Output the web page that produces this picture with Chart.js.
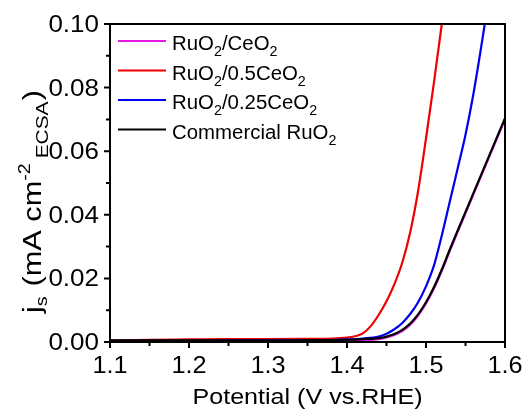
<!DOCTYPE html>
<html>
<head>
<meta charset="utf-8">
<script src="https://cdn.jsdelivr.net/npm/chart.js@4.4.0/dist/chart.umd.min.js"></script>
<style>
  html, body { margin: 0; padding: 0; background: #fff; }
  #wrap { width: 528px; height: 412px; }
</style>
</head>
<body>
<div id="wrap"><canvas id="Grafico" width="528" height="412"></canvas></div>
<script>
// values
const potRuCe = [1.10,1.20,1.30,1.35,1.40,1.42,1.44,1.45,1.46,1.47,1.48,1.49,1.50,1.51,1.52,1.53,1.54,1.55,1.56,1.57,1.58,1.59,1.60];
const jRuCe   = [0.0002,0.0002,0.0002,0.0003,0.0004,0.0006,0.0009,0.0014,0.0022,0.0034,0.0054,0.0083,0.0121,0.0168,0.0224,0.0286,0.0346,0.0405,0.0464,0.0523,0.0582,0.0641,0.0700];

const potRu05 = [1.10,1.15,1.20,1.25,1.30,1.35,1.38,1.40,1.41,1.42,1.43,1.44,1.45,1.46,1.47,1.48,1.49,1.50,1.51,1.52,1.525];
const jRu05   = [0.0004,0.0007,0.0008,0.0009,0.0009,0.0010,0.0011,0.0014,0.0018,0.0027,0.0050,0.0085,0.0128,0.0182,0.0250,0.0345,0.0475,0.0640,0.0815,0.1000,0.1100];

const potRu025 = [1.10,1.20,1.30,1.35,1.40,1.42,1.44,1.45,1.46,1.47,1.48,1.49,1.50,1.51,1.52,1.53,1.54,1.55,1.56,1.57,1.58];
const jRu025   = [0.0004,0.0004,0.0005,0.0005,0.0008,0.0011,0.0017,0.0026,0.0040,0.0060,0.0088,0.0125,0.0175,0.0240,0.0335,0.0440,0.0545,0.0652,0.0780,0.0930,0.1090];

const potComm = [1.10,1.20,1.30,1.35,1.40,1.42,1.44,1.45,1.46,1.47,1.48,1.49,1.50,1.51,1.52,1.53,1.54,1.55,1.56,1.57,1.58,1.59,1.60];
const jComm   = [0.0005,0.0005,0.0005,0.0006,0.0007,0.0009,0.0012,0.0017,0.0025,0.0038,0.0058,0.0087,0.0125,0.0172,0.0228,0.0290,0.0350,0.0409,0.0468,0.0527,0.0586,0.0645,0.0704];

const xTicks = [1.1, 1.2, 1.3, 1.4, 1.5, 1.6];
const yTicks = [0.00, 0.02, 0.04, 0.06, 0.08, 0.10];

// legend text pieces: [text, subscript?]
const legendNames = [
    [['RuO', 0], ['2', 1], ['/CeO', 0], ['2', 1]],
    [['RuO', 0], ['2', 1], ['/0.5CeO', 0], ['2', 1]],
    [['RuO', 0], ['2', 1], ['/0.25CeO', 0], ['2', 1]],
    [['Commercial RuO', 0], ['2', 1]]
];
const colores = ['#e619e6', '#f00000', '#0000f0', '#000000'];

const FONT = "'Liberation Sans', Arial, sans-serif";

function toPoints(xs, ys){
    const arr = [];
    for(let i = 0; i < xs.length; i++){
        arr.push({x: xs[i], y: ys[i]});
    }
    return arr;
}

// pieces: [text, size, dy, extraGapBefore]
function piecesWidth(ctx, pieces){
    let w = 0;
    for(const p of pieces){
        ctx.font = p[1] + 'px ' + FONT;
        w += ctx.measureText(p[0]).width + (p[3] || 0);
    }
    return w;
}

// draws pieces starting at (x, y) stretched along the text by k
function drawPieces(ctx, x, y, pieces, k){
    ctx.save();
    ctx.translate(x, y);
    ctx.scale(k, 1);
    let cx = 0;
    for(const p of pieces){
        cx += (p[3] || 0);
        ctx.font = p[1] + 'px ' + FONT;
        ctx.fillText(p[0], cx, p[2]);
        cx += ctx.measureText(p[0]).width;
    }
    ctx.restore();
}

function drawLabel(ctx, text, x, y, size, k, align){
    const pieces = [[text, size, 0]];
    const w = piecesWidth(ctx, pieces) * k;
    let x0 = x;
    if(align === 'center') x0 = x - w / 2;
    if(align === 'right') x0 = x - w;
    drawPieces(ctx, x0, y, pieces, k);
}

const framePlugin = {
    id: 'framePlugin',
    afterDraw(chart){
        const ctx = chart.ctx;
        const a = chart.chartArea;
        const sx = chart.scales.x;
        const sy = chart.scales.y;
        ctx.save();
        ctx.strokeStyle = '#000';
        ctx.lineWidth = 2;
        ctx.strokeRect(a.left, a.top, a.right - a.left, a.bottom - a.top);

        // ticks, major and minor, outward
        ctx.beginPath();
        for(let i = 0; i <= 10; i++){
            const px = sx.getPixelForValue(1.1 + i * 0.05);
            const len = (i % 2 === 0) ? 6 : 4;
            ctx.moveTo(px, a.bottom);
            ctx.lineTo(px, a.bottom + len);
        }
        for(let i = 0; i <= 10; i++){
            const py = sy.getPixelForValue(i * 0.01);
            const len = (i % 2 === 0) ? 6 : 4;
            ctx.moveTo(a.left, py);
            ctx.lineTo(a.left - len, py);
        }
        ctx.stroke();

        ctx.fillStyle = '#000';
        ctx.textAlign = 'left';
        ctx.textBaseline = 'alphabetic';

        // tick labels
        for(const v of xTicks){
            drawLabel(ctx, v.toFixed(1), sx.getPixelForValue(v), 373, 23, 1.1, 'center');
        }
        for(const v of yTicks){
            drawLabel(ctx, v.toFixed(2), 99, sy.getPixelForValue(v) + 8, 23, 1.13, 'right');
        }

        // legend
        for(let i = 0; i < legendNames.length; i++){
            const yb = 50 + i * 29.5;
            ctx.strokeStyle = colores[i];
            ctx.lineWidth = 2;
            ctx.beginPath();
            ctx.moveTo(118, yb - 9);
            ctx.lineTo(166, yb - 9);
            ctx.stroke();
            const pieces = legendNames[i].map(p => p[1] ? [p[0], 14, 6] : [p[0], 20, 0]);
            drawPieces(ctx, 172, yb, pieces, 1.02);
        }

        // x title
        drawLabel(ctx, 'Potential (V vs.RHE)', (a.left + a.right) / 2, 404, 22, 1.14, 'center');

        // y title, rotated
        const yt = [['j', 25, 0], ['s', 16, 6], [' (mA cm', 25, 0, 1], ['-2', 16, -11], ['ECSA', 17, 7, 4], [')', 25, 0, 1]];
        const natural = piecesWidth(ctx, yt);
        const ky = 223 / natural;
        ctx.translate(41, 201.5);
        ctx.rotate(-Math.PI / 2);
        drawPieces(ctx, -natural * ky / 2, 0, yt, ky);
        ctx.restore();
    }
};

const ctx = document.getElementById('Grafico');

new Chart(ctx, {
    type: 'scatter',
    data: {
        datasets: [
            { label: 'RuO2/CeO2', data: toPoints(potRuCe, jRuCe), borderColor: colores[0], order: 4 },
            { label: 'RuO2/0.5CeO2', data: toPoints(potRu05, jRu05), borderColor: colores[1], order: 3 },
            { label: 'RuO2/0.25CeO2', data: toPoints(potRu025, jRu025), borderColor: colores[2], order: 2 },
            { label: 'Commercial RuO2', data: toPoints(potComm, jComm), borderColor: colores[3], order: 1 }
        ].map(d => Object.assign(d, {
            showLine: true,
            borderWidth: 2.2,
            pointRadius: 0,
            cubicInterpolationMode: 'monotone',
            backgroundColor: d.borderColor
        }))
    },
    options: {
        responsive: false,
        animation: false,
        layout: { padding: { top: 24, right: 23, left: 0, bottom: 0 } },
        plugins: { legend: { display: false }, tooltip: { enabled: false } },
        scales: {
            x: {
                type: 'linear',
                min: 1.1,
                max: 1.6,
                ticks: { display: false },
                grid: { display: false, drawTicks: false },
                border: { display: false },
                afterFit: (scale) => { scale.height = 70; }
            },
            y: {
                min: 0,
                max: 0.1,
                ticks: { display: false },
                grid: { display: false, drawTicks: false },
                border: { display: false },
                afterFit: (scale) => { scale.width = 110; }
            }
        }
    },
    plugins: [framePlugin]
});
</script>
</body>
</html>
